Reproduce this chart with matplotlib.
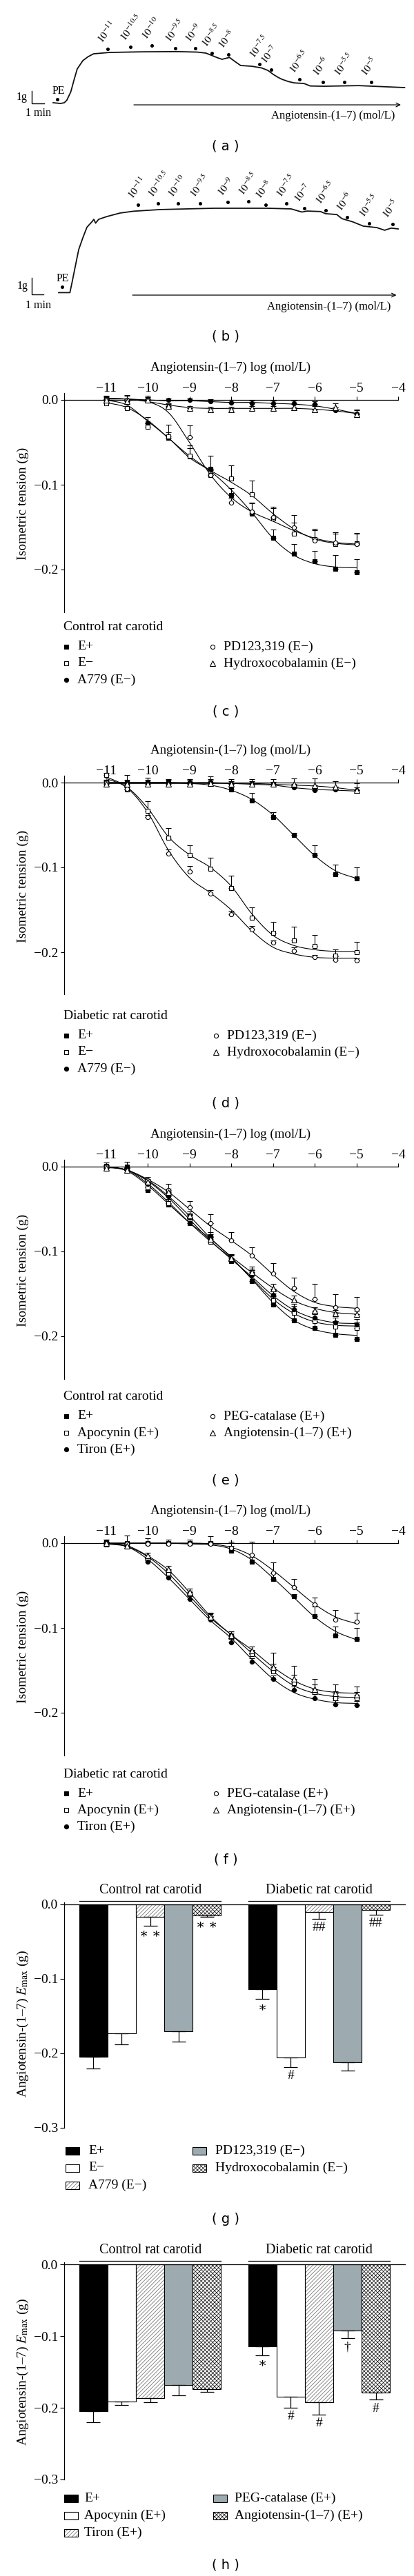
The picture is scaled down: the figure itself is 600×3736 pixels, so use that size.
import matplotlib
matplotlib.use('Agg')
import matplotlib.pyplot as plt
import numpy as np
from matplotlib.patches import Rectangle

W, H = 600, 3736
plt.rcParams['font.family'] = ['Liberation Serif', 'DejaVu Serif']
plt.rcParams['mathtext.fontset'] = 'stix'
plt.rcParams['hatch.linewidth'] = 0.6
FS = 14

# ---- traces (a) and (b): time in min, tension in g above PE baseline ----
a_time = [0, 0.6, 0.9, 1.1, 1.42, 1.7, 1.94, 2.39, 2.8, 3.25, 4.5, 7.0, 10.0, 11.6, 12.3,
          12.8, 13.3, 13.6, 14.0, 14.2, 14.6, 15.1, 16.0, 16.8, 17.3, 17.7, 18.1, 18.4,
          18.9, 19.4, 20.2, 20.7, 21.8, 24.6, 28.3]
a_tension = [0, -0.06, 0.0, 0.2, 0.87, 1.9, 2.72, 3.39, 3.7, 3.94, 4.05, 4.1, 4.12, 4.08, 4.0,
             3.8, 3.6, 3.5, 3.6, 3.65, 3.35, 3.0, 2.94, 2.8, 2.6, 2.3, 2.05, 1.9,
             1.72, 1.6, 1.55, 1.35, 1.33, 1.38, 1.22]
a_dose_time = [4.39, 6.22, 7.94, 9.83, 11.44, 12.78, 14.11, 16.61, 17.56, 19.83, 21.72, 23.44, 25.61]
a_dose_level = [4.33, 4.5, 4.61, 4.39, 4.39, 4.0, 3.89, 3.11, 2.67, 1.89, 1.67, 1.67, 1.67]
a_pe = (0.35, 0.28)

b_time = [0, 0.96, 1.15, 1.47, 1.71, 2.06, 2.41, 2.86, 3.0, 3.15, 3.41, 4.12, 5.24, 6.39, 8.65,
          13.24, 17.76, 19.82, 20.74, 21.18, 22.33, 22.76, 23.71, 24.15, 25.06, 25.97, 27.12,
          27.79, 28.35, 28.94]
b_tension = [0, 0, 0.64, 1.77, 2.6, 3.31, 3.95, 4.3, 4.43, 4.2, 4.43, 4.6, 4.81, 4.92, 5.02,
             5.1, 5.1, 5.06, 4.87, 4.93, 4.9, 4.77, 4.72, 4.47, 4.28, 4.02, 3.93,
             3.77, 3.9, 3.85]
b_dose_time = [6.79, 8.47, 10.18, 12.06, 14.41, 16.18, 17.65, 19.41, 20.94, 22.76, 24.56, 26.47, 28.47]
b_dose_level = [5.31, 5.39, 5.39, 5.39, 5.48, 5.52, 5.31, 5.39, 5.1, 4.98, 4.56, 4.18, 4.14]
b_pe = (0.29, 0.35)

# ---- concentration-response curves (log mol/L, g) ----
doses = [-11, -10.5, -10, -9.5, -9, -8.5, -8, -7.5, -7, -6.5, -6, -5.5, -5]

c_eplus = [0.000, -0.001, -0.028, -0.045, -0.067, -0.081, -0.112, -0.134, -0.163, -0.181, -0.190, -0.199, -0.203]
c_eplus_err = [0.004, 0.006, 0.008, 0.016, 0.010, 0.015, 0.008, 0.013, 0.010, 0.011, 0.012, 0.016, 0.015]
c_eplus_fit = [0.000, -0.006, -0.025, -0.045, -0.068, -0.084, -0.106, -0.133, -0.163, -0.183, -0.193, -0.197, -0.198]
c_eminus = [-0.004, -0.010, -0.032, -0.043, -0.066, -0.089, -0.093, -0.111, -0.140, -0.158, -0.164, -0.170, -0.169]
c_eminus_err = [0.003, 0.003, 0.004, 0.005, 0.012, 0.008, 0.016, 0.016, 0.012, 0.013, 0.012, 0.012, 0.012]
c_eminus_fit = [-0.003, -0.009, -0.024, -0.045, -0.066, -0.083, -0.097, -0.113, -0.134, -0.152, -0.164, -0.169, -0.171]
c_a779 = [0.001, 0.000, 0.001, 0.000, 0.000, -0.002, -0.003, -0.004, -0.004, -0.004, -0.005, -0.012, -0.016]
c_a779_err = [0.004, 0.006, 0.004, 0.002, 0.002, 0.003, 0.003, 0.003, 0.003, 0.003, 0.003, 0.003, 0.004]
c_a779_fit = [0.001, 0.001, 0.000, -0.001, -0.001, -0.002, -0.003, -0.003, -0.004, -0.005, -0.007, -0.011, -0.016]
c_pd = [0.001, 0.000, 0.000, -0.008, -0.044, -0.089, -0.121, -0.132, -0.138, -0.150, -0.166, -0.168, -0.170]
c_pd_err = [0.002, 0.002, 0.002, 0.003, 0.014, 0.006, 0.005, 0.010, 0.012, 0.014, 0.012, 0.012, 0.012]
c_pd_fit = [0.002, 0.001, -0.002, -0.015, -0.050, -0.088, -0.115, -0.132, -0.143, -0.154, -0.163, -0.168, -0.170]
c_hydro = [0.000, -0.002, 0.000, -0.007, -0.010, -0.011, -0.011, -0.010, -0.010, -0.009, -0.011, -0.009, -0.017]
c_hydro_err = [0.002, 0.003, 0.003, 0.003, 0.003, 0.003, 0.003, 0.003, 0.003, 0.004, 0.004, 0.005, 0.006]
c_hydro_fit = [0.002, 0.001, -0.002, -0.006, -0.009, -0.010, -0.010, -0.010, -0.010, -0.010, -0.011, -0.013, -0.016]

d_eplus = [0.000, 0.000, 0.000, 0.000, -0.001, -0.001, -0.008, -0.021, -0.041, -0.062, -0.085, -0.108, -0.113]
d_eplus_err = [0.003, 0.009, 0.006, 0.004, 0.004, 0.008, 0.006, 0.009, 0.006, 0.003, 0.011, 0.011, 0.013]
d_eplus_fit = [0.000, 0.000, 0.000, 0.000, -0.001, -0.003, -0.009, -0.020, -0.038, -0.062, -0.086, -0.104, -0.113]
d_eminus = [0.009, -0.008, -0.033, -0.065, -0.085, -0.102, -0.124, -0.159, -0.177, -0.186, -0.193, -0.204, -0.200]
d_eminus_err = [0.002, 0.002, 0.011, 0.011, 0.011, 0.013, 0.014, 0.012, 0.013, 0.016, 0.013, 0.007, 0.012]
d_eminus_fit = [0.007, -0.005, -0.030, -0.064, -0.085, -0.100, -0.122, -0.155, -0.180, -0.192, -0.197, -0.199, -0.199]
d_a779 = [0.000, 0.000, 0.000, 0.000, 0.000, 0.000, -0.001, -0.001, -0.002, -0.006, -0.009, -0.008, -0.009]
d_a779_err = [0.003, 0.003, 0.003, 0.003, 0.004, 0.004, 0.003, 0.003, 0.003, 0.003, 0.003, 0.003, 0.003]
d_a779_fit = [0.000, 0.000, 0.000, 0.000, 0.000, 0.000, -0.001, -0.002, -0.003, -0.006, -0.008, -0.009, -0.010]
d_pd = [0.000, -0.007, -0.041, -0.084, -0.105, -0.131, -0.155, -0.173, -0.189, -0.198, -0.206, -0.209, -0.210]
d_pd_err = [0.002, 0.002, 0.003, 0.005, 0.007, 0.004, 0.004, 0.004, 0.003, 0.004, 0.003, 0.004, 0.003]
d_pd_fit = [0.005, -0.006, -0.035, -0.080, -0.112, -0.130, -0.150, -0.175, -0.194, -0.202, -0.206, -0.207, -0.207]
d_hydro = [-0.002, -0.002, -0.002, -0.002, -0.002, -0.001, -0.002, -0.002, -0.002, -0.002, -0.003, -0.005, -0.009]
d_hydro_err = [0.002, 0.002, 0.002, 0.003, 0.003, 0.004, 0.006, 0.006, 0.006, 0.007, 0.008, 0.007, 0.008]
d_hydro_fit = [-0.001, -0.001, -0.001, -0.001, -0.001, -0.001, -0.001, -0.001, -0.002, -0.003, -0.004, -0.006, -0.009]

e_eplus = [0.001, 0.000, -0.028, -0.045, -0.067, -0.082, -0.111, -0.135, -0.163, -0.181, -0.190, -0.198, -0.203]
e_eplus_err = [0.004, 0.006, 0.008, 0.016, 0.010, 0.015, 0.008, 0.013, 0.010, 0.011, 0.012, 0.016, 0.015]
e_eplus_fit = [0.000, -0.005, -0.022, -0.044, -0.066, -0.085, -0.107, -0.133, -0.160, -0.181, -0.192, -0.197, -0.199]
e_apocynin = [-0.002, -0.004, -0.024, -0.043, -0.062, -0.089, -0.110, -0.126, -0.158, -0.172, -0.182, -0.189, -0.190]
e_apocynin_err = [0.002, 0.003, 0.004, 0.005, 0.006, 0.005, 0.006, 0.006, 0.008, 0.008, 0.008, 0.007, 0.006]
e_apocynin_fit = [-0.001, -0.004, -0.020, -0.042, -0.066, -0.088, -0.108, -0.132, -0.156, -0.173, -0.183, -0.187, -0.188]
e_tiron = [0.000, -0.004, -0.020, -0.035, -0.060, -0.083, -0.110, -0.128, -0.151, -0.168, -0.178, -0.184, -0.186]
e_tiron_err = [0.002, 0.002, 0.004, 0.004, 0.005, 0.006, 0.005, 0.006, 0.006, 0.006, 0.006, 0.006, 0.006]
e_tiron_fit = [0.000, -0.004, -0.017, -0.037, -0.062, -0.087, -0.109, -0.130, -0.152, -0.169, -0.179, -0.184, -0.185]
e_peg = [0.000, -0.004, -0.016, -0.028, -0.048, -0.067, -0.087, -0.105, -0.126, -0.143, -0.156, -0.166, -0.168]
e_peg_err = [0.002, 0.002, 0.004, 0.008, 0.007, 0.011, 0.010, 0.010, 0.012, 0.012, 0.018, 0.016, 0.014]
e_peg_fit = [0.000, -0.004, -0.015, -0.030, -0.050, -0.070, -0.087, -0.105, -0.127, -0.147, -0.160, -0.165, -0.167]
e_ang = [-0.002, -0.004, -0.018, -0.030, -0.058, -0.085, -0.108, -0.124, -0.144, -0.157, -0.170, -0.173, -0.174]
e_ang_err = [0.002, 0.002, 0.003, 0.004, 0.005, 0.005, 0.005, 0.006, 0.006, 0.005, 0.004, 0.004, 0.004]
e_ang_fit = [0.000, -0.004, -0.016, -0.035, -0.058, -0.084, -0.106, -0.125, -0.143, -0.158, -0.167, -0.172, -0.174]

f_eplus = [0.001, 0.000, 0.000, 0.000, 0.000, 0.000, -0.009, -0.022, -0.042, -0.063, -0.086, -0.109, -0.113]
f_eplus_err = [0.003, 0.009, 0.006, 0.004, 0.004, 0.008, 0.006, 0.006, 0.006, 0.003, 0.011, 0.011, 0.013]
f_eplus_fit = [0.000, 0.000, 0.000, 0.000, -0.001, -0.002, -0.007, -0.020, -0.041, -0.064, -0.087, -0.104, -0.114]
f_apocynin = [-0.002, -0.004, -0.020, -0.036, -0.060, -0.086, -0.110, -0.131, -0.151, -0.165, -0.176, -0.183, -0.183]
f_apocynin_err = [0.002, 0.003, 0.004, 0.004, 0.004, 0.004, 0.004, 0.005, 0.009, 0.010, 0.009, 0.008, 0.007]
f_apocynin_fit = [-0.001, -0.004, -0.016, -0.036, -0.062, -0.088, -0.108, -0.130, -0.151, -0.168, -0.177, -0.181, -0.182]
f_tiron = [0.002, -0.003, -0.022, -0.041, -0.066, -0.090, -0.117, -0.140, -0.160, -0.173, -0.183, -0.190, -0.191]
f_tiron_err = [0.002, 0.002, 0.003, 0.004, 0.004, 0.004, 0.004, 0.004, 0.004, 0.004, 0.005, 0.005, 0.005]
f_tiron_fit = [0.000, -0.004, -0.019, -0.041, -0.066, -0.091, -0.112, -0.137, -0.160, -0.176, -0.184, -0.188, -0.189]
f_peg = [0.000, -0.001, -0.001, -0.001, -0.001, -0.001, -0.006, -0.014, -0.035, -0.052, -0.072, -0.090, -0.093]
f_peg_err = [0.002, 0.002, 0.002, 0.002, 0.002, 0.003, 0.008, 0.016, 0.012, 0.010, 0.008, 0.011, 0.011]
f_peg_fit = [0.000, 0.000, 0.000, 0.000, 0.000, -0.001, -0.005, -0.015, -0.032, -0.052, -0.072, -0.087, -0.095]
f_ang = [0.000, -0.003, -0.015, -0.031, -0.058, -0.087, -0.109, -0.127, -0.146, -0.160, -0.172, -0.177, -0.179]
f_ang_err = [0.002, 0.003, 0.004, 0.004, 0.004, 0.004, 0.005, 0.005, 0.017, 0.015, 0.012, 0.010, 0.010]
f_ang_fit = [0.000, -0.003, -0.015, -0.032, -0.058, -0.086, -0.108, -0.126, -0.146, -0.162, -0.172, -0.176, -0.177]

# ---- Emax bar charts ----
g_labels = ['E+', 'E−', 'A779 (E−)', 'PD123,319 (E−)', 'Hydroxocobalamin (E−)']
g_control = [-0.2046, -0.1727, -0.0170, -0.1706, -0.0149]
g_control_err = [0.016, 0.015, 0.012, 0.014, 0.002]
g_diabetic = [-0.1142, -0.2053, -0.0106, -0.2117, -0.0078]
g_diabetic_err = [0.0124, 0.0135, 0.0084, 0.0117, 0.006]
g_control_marks = ['', '', '∗ ∗', '', '∗ ∗']
g_diabetic_marks = ['∗', '#', '##', '', '##']

h_labels = ['E+', 'Apocynin (E+)', 'Tiron (E+)', 'PEG-catalase (E+)', 'Angiotensin-(1–7) (E+)']
h_control = [-0.2045, -0.1917, -0.1863, -0.1687, -0.1738]
h_control_err = [0.0153, 0.0048, 0.0060, 0.0144, 0.0038]
h_diabetic = [-0.1144, -0.1850, -0.1920, -0.0927, -0.1786]
h_diabetic_err = [0.0121, 0.0153, 0.0173, 0.0102, 0.0102]
h_control_marks = ['', '', '', '', '']
h_diabetic_marks = ['∗', '#', '#', '†', '#']

dose_labels = [f'$10^{{{d:g}}}$' for d in doses]

fig = plt.figure(figsize=(W / 100, H / 100), dpi=100)
ov = fig.add_axes([0, 0, 1, 1])
ov.set_xlim(0, W)
ov.set_ylim(H, 0)
ov.axis('off')


def px_axes(x0, y0, x1, y1):
    ax = fig.add_axes([x0 / W, 1 - y1 / H, (x1 - x0) / W, (y1 - y0) / H])
    ax.patch.set_alpha(0)
    return ax


def letter(ch, y):
    ov.text(327, y, f'( {ch} )', ha='center', va='center', fontsize=14, family='DejaVu Sans')


def smooth(x, y, n=10):
    x = np.asarray(x, float)
    y = np.asarray(y, float)
    ye = np.r_[2 * y[0] - y[1], y, 2 * y[-1] - y[-2]]
    s = np.linspace(0, 1, n, endpoint=False)
    xs, ys = [], []
    for i in range(1, len(x)):
        p0, p1, p2, p3 = ye[i - 1:i + 3]
        ys.append(0.5 * (2 * p1 + (p2 - p0) * s + (2 * p0 - 5 * p1 + 4 * p2 - p3) * s ** 2
                         + (-p0 + 3 * p1 - 3 * p2 + p3) * s ** 3))
        xs.append(x[i - 1] + (x[i] - x[i - 1]) * s)
    xs.append([x[-1]])
    ys.append([y[-1]])
    return np.concatenate(xs), np.concatenate(ys)


def trace_panel(box, origin, px_min, px_g, t, g, dose_t, dose_g, pe, bar_at, arrow_t, arrow_g, text_g):
    x0, y0, x1, y1 = box
    ax = px_axes(*box)
    ax.set_xlim((x0 - origin[0]) / px_min, (x1 - origin[0]) / px_min)
    ax.set_ylim((origin[1] - y1) / px_g, (origin[1] - y0) / px_g)
    ax.axis('off')
    ax.plot(t, g, color='#111111', lw=1.3)
    ax.plot(dose_t, dose_g, ls='none', marker='o', color='k', ms=2.6)
    for dt, dg, lab in zip(dose_t, dose_g, dose_labels):
        ax.annotate(lab, (dt, dg), xytext=(-4, 4), textcoords='offset points', rotation=52,
                    rotation_mode='anchor', ha='left', va='bottom', fontsize=11)
    ax.plot(*pe, ls='none', marker='o', color='k', ms=2.6)
    ax.annotate('PE', pe, xytext=(1, 3), textcoords='offset points', ha='center', va='bottom', fontsize=11.5)
    bt, bg = bar_at
    ax.plot([bt, bt, bt + 1], [bg + 1, bg, bg], color='k', lw=1.0)
    ax.text(bt - 0.35, bg + 0.5, '1g', ha='right', va='center', fontsize=11.5)
    ax.text(bt + 0.55, bg - 0.35, '1 min', ha='center', va='top', fontsize=11.5)
    ax.annotate('', xy=(arrow_t[1], arrow_g), xytext=(arrow_t[0], arrow_g),
                arrowprops=dict(arrowstyle='->', lw=0.9, color='k', shrinkA=0, shrinkB=0))
    ax.text(arrow_t[1] - 0.5, text_g, 'Angiotensin-(1–7) (mol/L)', ha='right', va='center', fontsize=12)


trace_panel((0, 0, 600, 200), (77, 149), 18, 18, a_time, a_tension, a_dose_time, a_dose_level,
            a_pe, (-1.72, -0.06), (6.5, 28.0), -0.17, -1.06)
letter('a', 212)
trace_panel((0, 245, 600, 465), (85, 424.4), 17, 24, b_time, b_tension, b_dose_time, b_dose_level,
            b_pe, (-2.29, -0.11), (6.3, 28.8), -0.15, -0.86)
letter('b', 488)

PX_G = 1230.0
filled_sq = dict(marker='s', mfc='k', mec='k', ms=4.6, mew=0.8)
open_sq = dict(marker='s', mfc='white', mec='k', ms=4.6, mew=0.8)
filled_ci = dict(marker='o', mfc='k', mec='k', ms=4.4, mew=0.8)
open_ci = dict(marker='o', mfc='white', mec='k', ms=4.4, mew=0.8)
open_tri = dict(marker='^', mfc='white', mec='k', ms=5.2, mew=0.8)


def curve_panel(y0, series, labels, header, leg_y, col2_x, ch, ch_y):
    ax = px_axes(93, y0 - 0.012 * PX_G, 577, y0 + 0.25 * PX_G)
    ax.set_xlim(-12, -4)
    ax.set_ylim(-0.25, 0.012)
    for vals, errs, fit, style in series:
        xs, ys = smooth(doses, fit)
        ax.plot(xs, ys, color='k', lw=0.8)
        ax.errorbar(doses, vals, yerr=[np.zeros(len(errs)), errs], fmt='none', ecolor='k',
                    elinewidth=0.8, capsize=3.2, capthick=0.8)
        ax.plot(doses, vals, ls='none', zorder=3, **style)
    ax.spines['top'].set_position(('data', 0))
    ax.spines['left'].set_bounds(-0.25, 0.008)
    ax.spines['right'].set_visible(False)
    ax.spines['bottom'].set_visible(False)
    for sp in ('top', 'left'):
        ax.spines[sp].set_linewidth(0.9)
    ax.xaxis.set_ticks_position('top')
    ax.set_xticks(range(-11, -3))
    ax.set_yticks([0, -0.1, -0.2])
    ax.set_yticklabels(['0.0', '−0.1', '−0.2'])
    ax.tick_params(direction='out', length=3.5, width=0.8, labelsize=FS, pad=2.5)
    ov.text(334, y0 - 47, 'Angiotensin-(1–7) log (mol/L)', ha='center', va='center', fontsize=13.6)
    ov.text(33, y0 + 150, 'Isometric tension (g)', rotation=90, ha='center', va='center', fontsize=FS)
    ov.text(92, leg_y, header, ha='left', va='center', fontsize=FS)
    for k, (lab, (_, _, _, style)) in enumerate(zip(labels, series)):
        mx = 96 if k < 3 else col2_x
        my = leg_y + 28 + 24 * (k if k < 3 else k - 3)
        ov.plot(mx, my, ls='none', **style)
        ov.text(mx + 16, my, lab, ha='left', va='center', fontsize=FS)
    letter(ch, ch_y)


labels_cd = ['E+', 'E−', 'A779 (E−)', 'PD123,319 (E−)', 'Hydroxocobalamin (E−)']
labels_ef = ['E+', 'Apocynin (E+)', 'Tiron (E+)', 'PEG-catalase (E+)', 'Angiotensin-(1–7) (E+)']

curve_panel(580, [(c_eplus, c_eplus_err, c_eplus_fit, filled_sq),
                  (c_eminus, c_eminus_err, c_eminus_fit, open_sq),
                  (c_a779, c_a779_err, c_a779_fit, filled_ci),
                  (c_pd, c_pd_err, c_pd_fit, open_ci),
                  (c_hydro, c_hydro_err, c_hydro_fit, open_tri)],
            labels_cd, 'Control rat carotid', 910, 308, 'c', 1032)
curve_panel(1135, [(d_eplus, d_eplus_err, d_eplus_fit, filled_sq),
                   (d_eminus, d_eminus_err, d_eminus_fit, open_sq),
                   (d_a779, d_a779_err, d_a779_fit, filled_ci),
                   (d_pd, d_pd_err, d_pd_fit, open_ci),
                   (d_hydro, d_hydro_err, d_hydro_fit, open_tri)],
            labels_cd, 'Diabetic rat carotid', 1474, 313, 'd', 1600)
curve_panel(1692, [(e_eplus, e_eplus_err, e_eplus_fit, filled_sq),
                   (e_apocynin, e_apocynin_err, e_apocynin_fit, open_sq),
                   (e_tiron, e_tiron_err, e_tiron_fit, filled_ci),
                   (e_peg, e_peg_err, e_peg_fit, open_ci),
                   (e_ang, e_ang_err, e_ang_fit, open_tri)],
            labels_ef, 'Control rat carotid', 2026, 308, 'e', 2147)
curve_panel(2238, [(f_eplus, f_eplus_err, f_eplus_fit, filled_sq),
                   (f_apocynin, f_apocynin_err, f_apocynin_fit, open_sq),
                   (f_tiron, f_tiron_err, f_tiron_fit, filled_ci),
                   (f_peg, f_peg_err, f_peg_fit, open_ci),
                   (f_ang, f_ang_err, f_ang_fit, open_tri)],
            labels_ef, 'Diabetic rat carotid', 2573, 313, 'f', 2697)

# bar styles: fill, hatch, hatch colour
bar_styles = [('black', '', 'k'), ('white', '', 'k'), ('white', '//////', '#777777'),
              ('#9daab0', '', 'k'), ('white', 'xxxxxx', '#222222')]
pos_control = np.arange(5)
pos_diabetic = np.arange(5) + 5.95


def bar_panel(y0, px_unit, ctl, ctl_err, dia, dia_err, ctl_marks, dia_marks, labels,
              leg_y, leg_x, ch, ch_y, ylab_y):
    ax = px_axes(93, y0 - 0.003 * px_unit, 587, y0 + 0.3 * px_unit)
    ax.set_xlim(-1.03, 10.98)
    ax.set_ylim(-0.3, 0.003)
    for pos, vals, errs, marks in ((pos_control, ctl, ctl_err, ctl_marks),
                                   (pos_diabetic, dia, dia_err, dia_marks)):
        for p, v, e, m, (fc, hatch, hc) in zip(pos, vals, errs, marks, bar_styles):
            ax.bar(p, v, width=1.0, color=fc, edgecolor=hc, hatch=hatch, lw=0)
            ax.bar(p, v, width=1.0, fill=False, edgecolor='k', lw=0.8)
            ax.errorbar(p, v, yerr=[[e], [0]], fmt='none', ecolor='k', elinewidth=0.9,
                        capsize=7, capthick=0.9)
            if m:
                ax.annotate(m, (p, v - e), xytext=(0, -3), textcoords='offset points',
                            ha='center', va='top', fontsize=FS)
    for pos, name in ((pos_control, 'Control rat carotid'), (pos_diabetic, 'Diabetic rat carotid')):
        ax.plot([pos[0] - 0.5, pos[-1] + 0.5], [5.5 / px_unit] * 2, color='k', lw=0.9, clip_on=False)
        ax.text(pos.mean(), 20.5 / px_unit, name, ha='center', va='center', fontsize=14.5, clip_on=False)
    ax.spines['top'].set_position(('data', 0))
    ax.spines['left'].set_bounds(-0.3, 0.003)
    ax.spines['right'].set_visible(False)
    ax.spines['bottom'].set_visible(False)
    for sp in ('top', 'left'):
        ax.spines[sp].set_linewidth(0.9)
    ax.set_xticks([])
    ax.set_yticks([0, -0.1, -0.2, -0.3])
    ax.set_yticklabels(['0.0', '−0.1', '−0.2', '−0.3'])
    ax.tick_params(axis='y', direction='out', length=4, width=0.8, labelsize=FS, pad=2.5)
    ov.text(33, ylab_y, r'Angiotensin-(1–7) $E_{\mathrm{max}}$ (g)', rotation=90,
            ha='center', va='center', fontsize=FS)
    for k, (lab, (fc, hatch, hc)) in enumerate(zip(labels, bar_styles)):
        col = 0 if k < 3 else 1
        px, tx = leg_x[col]
        my = leg_y + 25 * (k if k < 3 else k - 3)
        ov.add_patch(Rectangle((px, my - 5.5), 20, 11, facecolor=fc, edgecolor=hc, hatch=hatch, lw=0))
        ov.add_patch(Rectangle((px, my - 5.5), 20, 11, fill=False, edgecolor='k', lw=0.8))
        ov.text(tx, my, lab, ha='left', va='center', fontsize=FS)
    letter(ch, ch_y)


bar_panel(2762, 1080, g_control, g_control_err, g_diabetic, g_diabetic_err,
          g_control_marks, g_diabetic_marks, g_labels, 3119, [(95, 128), (279, 312)], 'g', 3218, 2935)
bar_panel(3284, 1040, h_control, h_control_err, h_diabetic, h_diabetic_err,
          h_control_marks, h_diabetic_marks, h_labels, 3623, [(93, 122), (309, 340)], 'h', 3720, 3440)

fig.savefig('out.png', dpi=100)
